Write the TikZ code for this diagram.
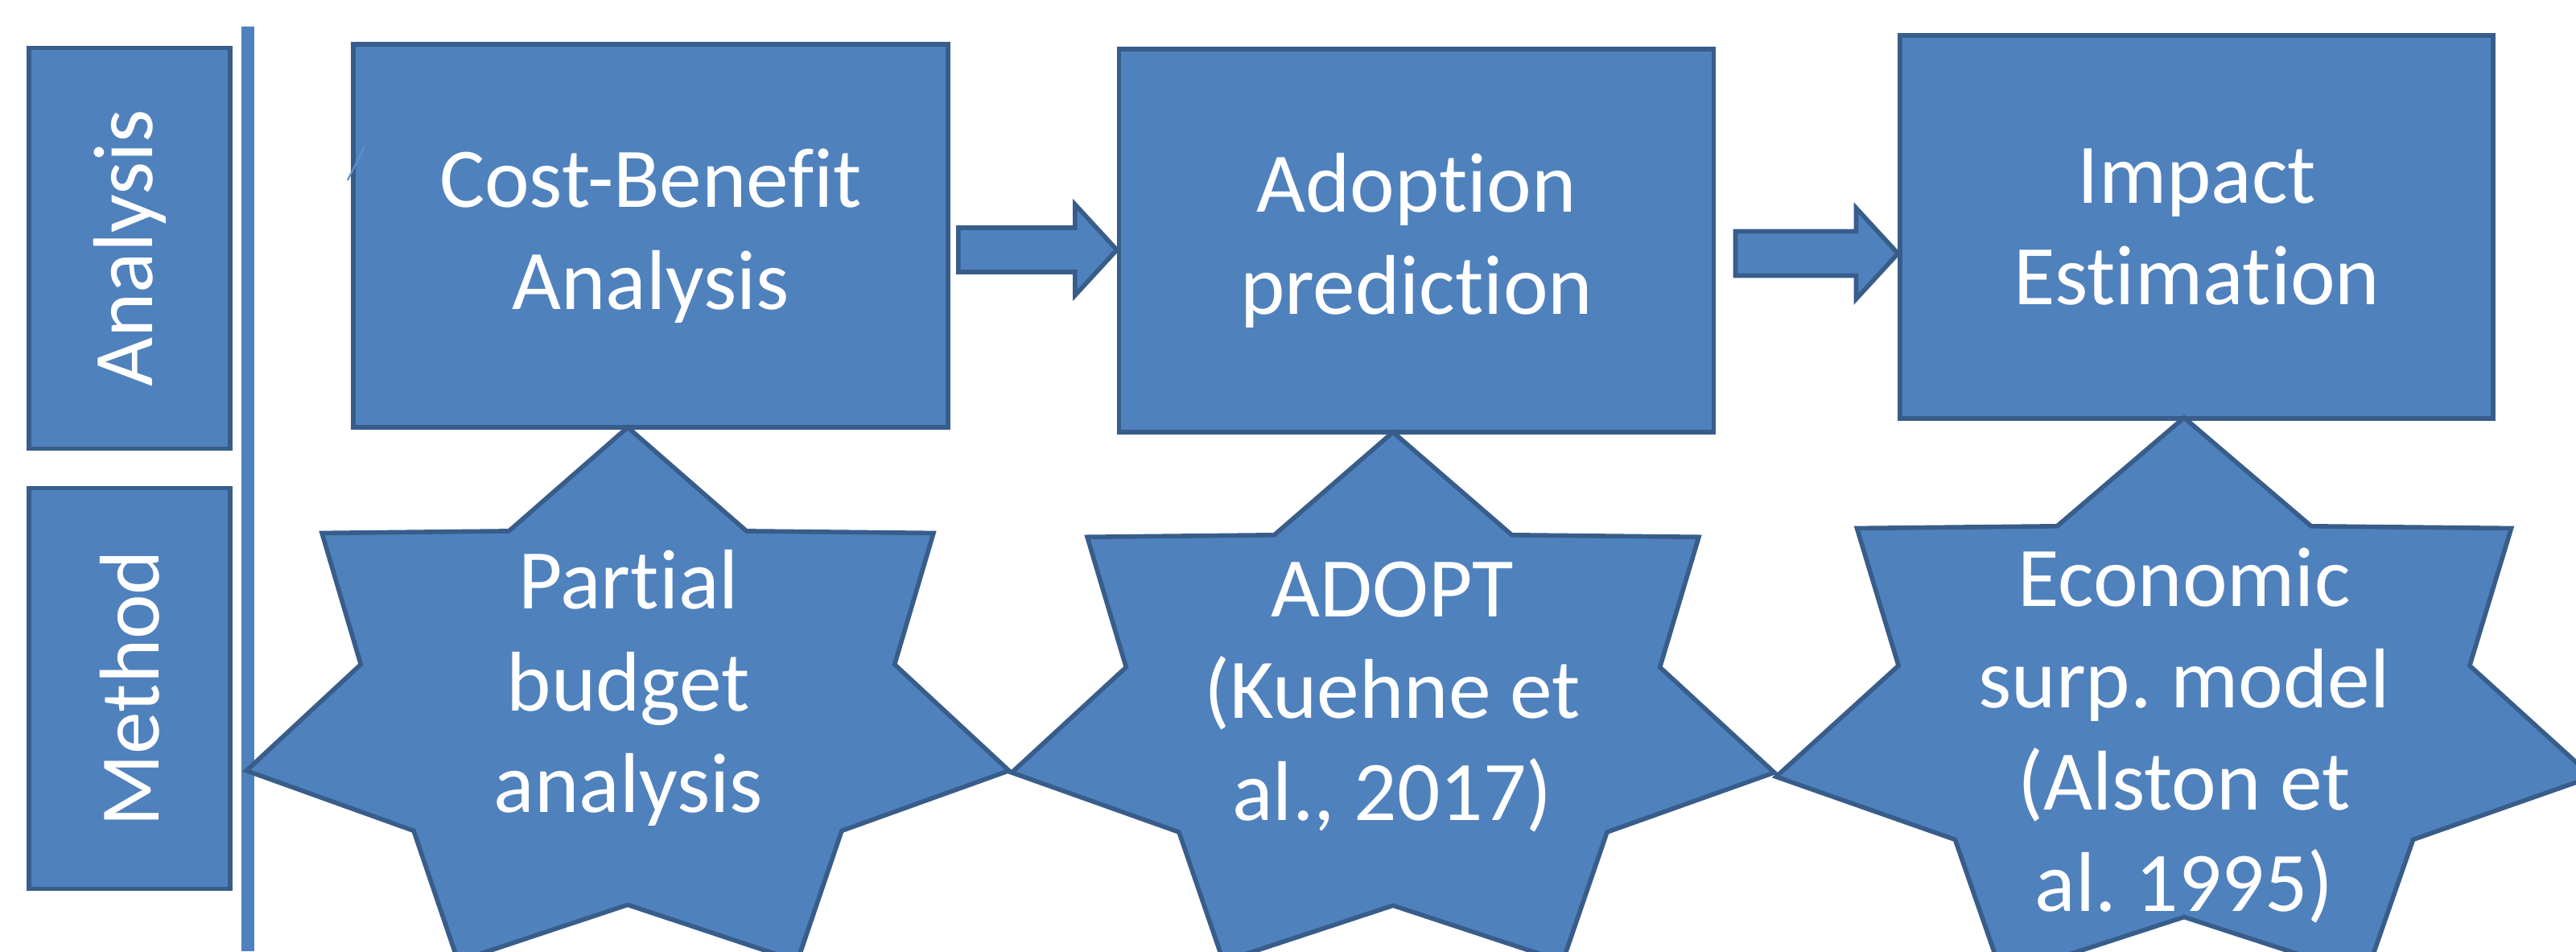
\documentclass[tikz,border=0pt]{standalone}
\usepackage{fontspec}
\setmainfont{Carlito}[Ligatures=NoCommon]
\frenchspacing
\usetikzlibrary{positioning,calc}
\definecolor{boxfill}{HTML}{4F81BD}
\definecolor{boxline}{HTML}{385D8A}
\tikzset{stage/.style={draw=boxline,fill=boxfill,line width=1.6pt,align=center,text=white,font=\fontsize{30}{36}\selectfont,minimum width=7.39cm,minimum height=4.76cm,inner sep=0pt},rowlabel/.style={draw=boxline,fill=boxfill,line width=1.6pt,text=white,font=\fontsize{30}{36}\selectfont,minimum width=4.98cm,minimum height=2.50cm,inner sep=0pt,rotate=90},starshape/.style={draw=boxline,fill=boxfill,line width=1.6pt,line join=miter},startext/.style={align=center,text=white,font=\fontsize{30}{36}\selectfont,inner sep=0pt},blockarr/.style={draw=boxline,fill=boxfill,line width=1.6pt},divider/.style={draw=boxfill,line width=4.3pt}}
% seven-pointed star: centre x, centre y, outer radius x, outer radius y
\newcommand{\methodstar}[4]{\draw[starshape] (#1,#2+#4) \foreach \k [evaluate=\k as \r using {1-0.3*mod(\k,2)}] in {1,...,13}{ -- ({#1+\r*#3*cos(90-\k*360/14)},{#2+\r*#4*sin(90-\k*360/14)}) } -- cycle;}
% block arrow: from node, to node, gap, height of its axis
\newcommand{\blockarrow}[4]{\draw[blockarr] let \p1=(#1.east), \p2=(#2.west) in (\x1+#3,#4+0.275cm) -- (\x2-0.52cm,#4+0.275cm) -- (\x2-0.52cm,#4+0.565cm) -- (\x2,#4) -- (\x2-0.52cm,#4-0.565cm) -- (\x2-0.52cm,#4-0.275cm) -- (\x1+#3,#4-0.275cm) -- cycle;}
\begin{document}
\begin{tikzpicture}
\useasboundingbox (0,0) rectangle (32.01,-11.82);
\draw[divider] (3.08,-0.33) -- (3.08,-11.82);
\node[rowlabel] (ana) at (1.61,-3.085) {Analysis};
\node[rowlabel] (met) at (1.61,-8.555) {Method};
\node[stage] (cba) at (8.085,-2.93) {Cost-Benefit\\Analysis};
\node[stage,right=2.07cm of cba,yshift=-0.06cm] (adp) {Adoption\\prediction};
\node[stage,right=2.26cm of adp,yshift=0.17cm,minimum width=7.37cm] (imp) {Impact\\Estimation};
\draw[boxfill!90!white,line width=0.6pt] (4.32,-2.24) -- (4.53,-1.82);
\blockarrow{cba}{adp}{0.10cm}{-3.105cm}
\blockarrow{adp}{imp}{0.24cm}{-3.15cm}
% methods
\methodstar{7.80}{-8.80}{4.86}{3.49}
\methodstar{17.31}{-8.83}{4.86}{3.46}
\methodstar{27.14}{-8.84}{5.20}{3.65}
\node[startext] (pba) at (7.81,-8.55) {Partial\\budget\\analysis};
\node[startext] (adopt) at (17.30,-8.66) {ADOPT\\(Kuehne et\\al., 2017)};
\node[startext] (esm) at (27.14,-9.14) {Economic\\surp. model\\(Alston et\\al. 1995)};
\end{tikzpicture}
\end{document}
